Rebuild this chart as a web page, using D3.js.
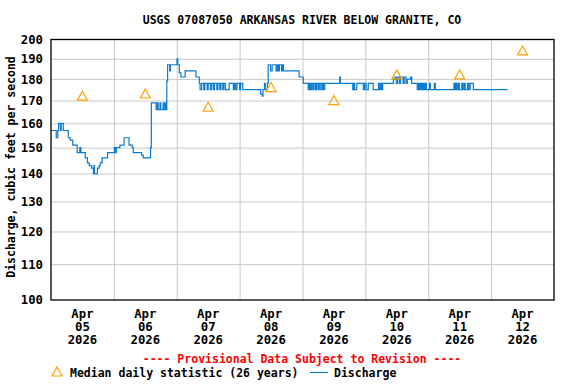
<!DOCTYPE html>
<html>
<head>
<meta charset="utf-8">
<script src="https://cdn.jsdelivr.net/npm/d3@7"></script>
<style>
  body { margin: 0; background: #fff; }
  svg text { font-family: "DejaVu Sans Mono", "Liberation Mono", monospace; font-weight: bold; font-size: 11.5px; }
  svg .tick-label { font-size: 12.3px; }
</style>
</head>
<body>
<div id="vis"></div>
<script>
// chart text
const TITLE = "USGS 07087050 ARKANSAS RIVER BELOW GRANITE, CO";
const Y_LABEL = "Discharge, cubic feet per second";
const NOTE = "---- Provisional Data Subject to Revision ----";
const MEDIAN_LABEL = "Median daily statistic (26 years)";
const FLOW_LABEL = "Discharge";

// axes
const Y_TICKS = [100, 110, 120, 130, 140, 150, 160, 170, 180, 190, 200];
const DAYS = ["05", "06", "07", "08", "09", "10", "11", "12"];
const MONTH = "Apr";
const YEAR = "2026";

// median daily statistic, one per day (cfs)
const MEDIAN_CFS = [172, 173, 167, 176, 170, 182, 182, 194];

// discharge, [hours since Apr 05 00:00, cfs]
const DISCHARGE = [
  [0, 157], [2.0, 154], [2.6, 157], [2.9, 160], [3.6, 157], [3.9, 160], [4.7, 157],
  [6.6, 154], [7.3, 153], [8.3, 151], [10.0, 148], [11.0, 150], [11.4, 148],
  [13.1, 146], [13.9, 144], [14.6, 143], [15.5, 142], [16.2, 140], [16.4, 143],
  [16.6, 140], [17.7, 142], [18.4, 143], [18.8, 144], [19.5, 146], [21.6, 148],
  [24.2, 150], [24.6, 148], [24.9, 150], [26.3, 151], [27.9, 154], [29.8, 151],
  [31.0, 150], [31.4, 148], [34.6, 147], [35.2, 146], [38.0, 150], [38.3, 169],
  [40.1, 166], [40.6, 169], [40.9, 166], [41.6, 169], [41.9, 166], [42.8, 169],
  [43.1, 166], [43.6, 169], [43.9, 166], [44.2, 179], [44.5, 187], [45.3, 184],
  [45.6, 187], [48.1, 190], [48.4, 187], [49.0, 183], [49.6, 181], [51.2, 184],
  [55.3, 181], [56.6, 178], [56.9, 175], [57.5, 178], [58.3, 175], [58.7, 178],
  [59.6, 175], [60.0, 178], [60.8, 175], [61.3, 178], [62.0, 175], [62.4, 178],
  [63.3, 175], [63.7, 178], [64.4, 175], [64.9, 178], [65.6, 175], [66.0, 178],
  [66.6, 175], [68.0, 178], [69.6, 175], [70.0, 178], [70.5, 175], [71.0, 178],
  [72.0, 175], [72.4, 178], [73.2, 175], [80.0, 173], [80.6, 172], [80.9, 175],
  [81.5, 178], [81.8, 175], [82.6, 178], [82.9, 187], [83.8, 184], [84.4, 187],
  [85.9, 184], [86.4, 187], [86.8, 184], [87.2, 187], [88.0, 184], [88.4, 187],
  [88.7, 184], [94.7, 181], [96.3, 178], [98.2, 175], [98.6, 178], [99.0, 175],
  [99.5, 178], [100.0, 175], [100.4, 178], [101.0, 175], [101.4, 178], [102.0, 175],
  [102.4, 178], [103.0, 175], [103.5, 178], [104.0, 175], [104.5, 178], [110.2, 181],
  [110.5, 178], [115.2, 175], [115.6, 178], [115.9, 175], [116.7, 178], [119.2, 175],
  [119.7, 178], [120.3, 175], [121.1, 178], [123.0, 175], [125.0, 178], [125.3, 175],
  [125.8, 178], [126.2, 175], [126.6, 178], [130.7, 180], [131.3, 181], [131.8, 178],
  [132.3, 181], [133.0, 178], [133.4, 181], [134.4, 178], [134.8, 181], [135.5, 178],
  [136.0, 180], [137.3, 181], [137.7, 178], [139.8, 175], [140.2, 178], [140.5, 175],
  [140.9, 178], [141.2, 175], [141.6, 178], [141.9, 175], [142.3, 178], [142.6, 175],
  [143.0, 178], [143.3, 175], [144.5, 178], [144.8, 175], [146.3, 178], [146.7, 175],
  [153.8, 178], [154.2, 175], [154.6, 178], [155.0, 175], [155.5, 178], [155.9, 175],
  [156.8, 178], [157.2, 175], [157.7, 178], [158.1, 175], [159.0, 178], [159.5, 175],
  [160.0, 178], [161.2, 175], [174.3, 175]
];

// frame
const FRAME_WIDTH = 576;
const FRAME_HEIGHT = 384;
const MARGINS = {left: 51, right: 22, top: 39.5, bottom: 84};
const VIS_WIDTH = FRAME_WIDTH - MARGINS.left - MARGINS.right;
const VIS_HEIGHT = FRAME_HEIGHT - MARGINS.top - MARGINS.bottom;

const LINE_COLOR = "#0a7bd0";
const MEDIAN_COLOR = "#ffa000";
const GRID_COLOR = "#c8c8c8";

const START = new Date(Date.UTC(2026, 3, 5));
const HOUR = 3600 * 1000;
const atHour = (h) => new Date(START.getTime() + h * HOUR);

const FRAME = d3.select("#vis")
  .append("svg")
  .attr("width", FRAME_WIDTH)
  .attr("height", FRAME_HEIGHT);

const X_SCALE = d3.scaleUtc()
  .domain([START, atHour(24 * DAYS.length)])
  .range([MARGINS.left, MARGINS.left + VIS_WIDTH]);

const Y_SCALE = d3.scaleLog()
  .domain([100, 200])
  .range([MARGINS.top + VIS_HEIGHT, MARGINS.top]);

// grid
const midnights = d3.range(1, DAYS.length).map((d) => atHour(24 * d));
FRAME.append("g")
  .attr("transform", "translate(0," + MARGINS.top + ")")
  .call(d3.axisBottom(X_SCALE).tickValues(midnights).tickSize(VIS_HEIGHT).tickFormat(""))
  .call((g) => g.select(".domain").remove())
  .call((g) => g.selectAll("line").attr("stroke", GRID_COLOR));

FRAME.append("g")
  .attr("transform", "translate(" + MARGINS.left + ",0)")
  .call(d3.axisRight(Y_SCALE).tickValues(Y_TICKS.slice(1, -1)).tickSize(VIS_WIDTH).tickFormat(""))
  .call((g) => g.select(".domain").remove())
  .call((g) => g.selectAll("line").attr("stroke", GRID_COLOR));

// y axis labels
FRAME.append("g")
  .attr("transform", "translate(" + MARGINS.left + ",0)")
  .call(d3.axisLeft(Y_SCALE).tickValues(Y_TICKS).tickSize(0).tickPadding(8).tickFormat(d3.format("d")))
  .call((g) => g.select(".domain").remove())
  .call((g) => g.selectAll("text").attr("class", "tick-label").attr("fill", "#000")
    .attr("font-size", null).attr("font-family", null));

// x axis labels: Apr / day / year at noon
const noons = DAYS.map((d, i) => atHour(24 * i + 12));
const xLabels = FRAME.append("g")
  .selectAll("text")
  .data(noons)
  .join("text")
  .attr("class", "tick-label")
  .attr("text-anchor", "middle")
  .attr("x", (d) => X_SCALE(d));
xLabels.append("tspan").attr("x", (d) => X_SCALE(d)).attr("y", 318).text(MONTH);
xLabels.append("tspan").attr("x", (d) => X_SCALE(d)).attr("y", 331).text((d, i) => DAYS[i]);
xLabels.append("tspan").attr("x", (d) => X_SCALE(d)).attr("y", 344).text(YEAR);

// discharge line
const line = d3.line()
  .x((d) => X_SCALE(atHour(d[0])))
  .y((d) => Y_SCALE(d[1]))
  .curve(d3.curveStepAfter);

FRAME.append("path")
  .datum(DISCHARGE)
  .attr("fill", "none")
  .attr("stroke", LINE_COLOR)
  .attr("stroke-width", 1.2)
  .attr("d", line);

// median triangles
const TRI = "M0,-5L5,4L-5,4Z";
FRAME.append("g")
  .selectAll("path")
  .data(MEDIAN_CFS)
  .join("path")
  .attr("d", TRI)
  .attr("transform", (d, i) => "translate(" + X_SCALE(noons[i]) + "," + Y_SCALE(d) + ")")
  .attr("fill", "none")
  .attr("stroke", MEDIAN_COLOR)
  .attr("stroke-width", 1.2);

// plot border
FRAME.append("rect")
  .attr("x", MARGINS.left)
  .attr("y", MARGINS.top)
  .attr("width", VIS_WIDTH)
  .attr("height", VIS_HEIGHT)
  .attr("fill", "none")
  .attr("stroke", "#000")
  .attr("stroke-width", 1.3);

// title
FRAME.append("text")
  .attr("x", 302)
  .attr("y", 24)
  .attr("text-anchor", "middle")
  .text(TITLE);

// y title
FRAME.append("text")
  .attr("transform", "translate(15,167) rotate(-90)")
  .attr("text-anchor", "middle")
  .attr("font-size", "12px")
  .text(Y_LABEL);

// provisional note
FRAME.append("text")
  .attr("x", 302)
  .attr("y", 363)
  .attr("text-anchor", "middle")
  .attr("fill", "#ff0000")
  .text(NOTE);

// legend
FRAME.append("path")
  .attr("d", TRI)
  .attr("transform", "translate(57,372)")
  .attr("fill", "none")
  .attr("stroke", MEDIAN_COLOR)
  .attr("stroke-width", 1.2);
FRAME.append("text").attr("x", 70).attr("y", 377).text(MEDIAN_LABEL);
FRAME.append("line")
  .attr("x1", 310).attr("x2", 328)
  .attr("y1", 372.5).attr("y2", 372.5)
  .attr("stroke", LINE_COLOR)
  .attr("stroke-width", 1.2);
FRAME.append("text").attr("x", 334).attr("y", 377).text(FLOW_LABEL);
</script>
</body>
</html>
